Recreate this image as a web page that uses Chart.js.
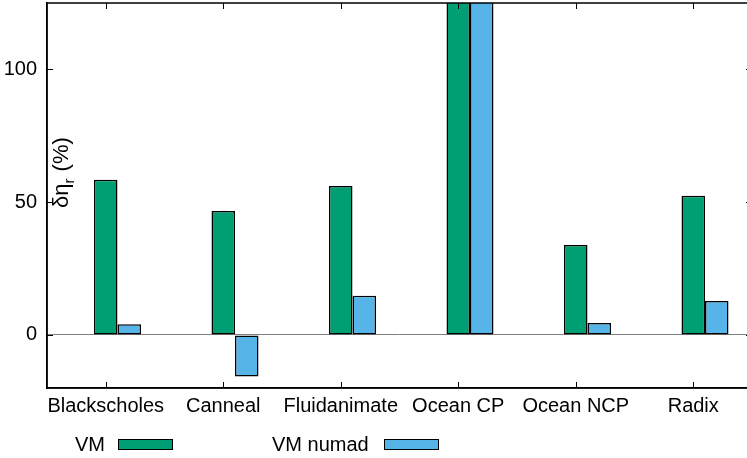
<!DOCTYPE html>
<html>
<head>
<meta charset="utf-8">
<script src="https://cdn.jsdelivr.net/npm/chart.js@4"></script>
<style>
html,body{margin:0;padding:0;background:#fff;overflow:hidden;}
#wrap{position:relative;width:752px;height:458px;}
.lg{position:absolute;font:20px "Liberation Sans",Arial,sans-serif;color:#000;line-height:20px;}
.sw{position:absolute;height:9px;border:1px solid #000;}
</style>
</head>
<body>
<div id="wrap">
<canvas id="chart" width="752" height="458"></canvas>
<div class="lg" style="left:75px;top:434px;">VM</div>
<div class="sw" style="left:118px;top:439px;width:53px;background:#009e73;"></div>
<div class="lg" style="left:272px;top:434px;">VM numad</div>
<div class="sw" style="left:384px;top:439px;width:53px;background:#56b4e9;"></div>
</div>
<script>
// DATA
const categories = ["Blackscholes","Canneal","Fluidanimate","Ocean CP","Ocean NCP","Radix"];
const vm = [58.4, 46.7, 56.1, 135, 33.9, 52.4];
const vmNumad = [4.0, -15.7, 14.7, 135, 4.5, 12.8];
const yTicks = [0, 50, 100];

const FONT = "'Liberation Sans', Arial, sans-serif";

// frame, inward ticks like gnuplot + y title
const framePlugin = {
  id: "frame",
  afterDraw(chart){
    const c = chart.ctx, a = chart.chartArea;
    const x = chart.scales.x, y = chart.scales.y;
    c.save();
    c.strokeStyle = "#000";
    c.lineWidth = 1.5;
    c.strokeRect(a.left, a.top, a.right - a.left, a.bottom - a.top);
    c.lineWidth = 1;
    c.beginPath();
    yTicks.forEach(v=>{
      const py = Math.round(y.getPixelForValue(v)) + 0.5;
      c.moveTo(a.left, py); c.lineTo(a.left + 6, py);
      c.moveTo(a.right, py); c.lineTo(a.right - 6, py);
    });
    categories.forEach((cat,i)=>{
      const px = Math.round(x.getPixelForValue(i)) + 0.5;
      c.moveTo(px, a.bottom); c.lineTo(px, a.bottom - 6);
      c.moveTo(px, a.top); c.lineTo(px, a.top + 6);
    });
    c.stroke();

    // y axis title inside the plot
    c.translate(68, 208);
    c.rotate(-Math.PI/2);
    c.fillStyle = "#000";
    c.textBaseline = "alphabetic";
    c.font = "22px " + FONT;
    c.fillText("δη", 0, 0);
    let w = c.measureText("δη").width;
    c.font = "15px " + FONT;
    c.fillText("r", w, 6);
    w += c.measureText("r").width;
    c.font = "22px " + FONT;
    c.fillText(" (%)", w + 1, 0);
    c.restore();
  }
};

new Chart(document.getElementById("chart"),{
  type:"bar",
  data:{
    labels:categories,
    datasets:[
      {label:"", data:[], backgroundColor:"transparent"},
      {label:"VM", data:vm, backgroundColor:"#009e73", borderColor:"#000", borderWidth:1.5, borderSkipped:false},
      {label:"VM numad", data:vmNumad, backgroundColor:"#56b4e9", borderColor:"#000", borderWidth:1.5, borderSkipped:false}
    ]
  },
  options:{
    responsive:false,
    animation:false,
    layout:{padding:{top:3,left:0,right:0,bottom:0}},
    datasets:{bar:{categoryPercentage:0.6, barPercentage:1.0}},
    plugins:{legend:{display:false}, tooltip:{enabled:false}},
    scales:{
      x:{
        grid:{display:false, drawTicks:false},
        border:{color:"#000", width:1.5},
        ticks:{color:"#000", font:{family:FONT, size:20}, padding:6, maxRotation:0, autoSkip:false},
        afterFit(s){ s.height = 70; s.paddingLeft = 0; s.paddingRight = 0; }
      },
      y:{
        min:-20, max:125,
        grid:{drawTicks:false, color:ctx=>ctx.tick && ctx.tick.value===0 ? "#808080" : "transparent", lineWidth:1},
        border:{color:"#000", width:1.5},
        ticks:{color:"#000", font:{family:FONT, size:20}, padding:10},
        afterBuildTicks(s){ s.ticks = yTicks.map(v=>({value:v})); },
        afterFit(s){ s.width = 47; s.paddingTop = 0; s.paddingBottom = 0; }
      }
    }
  },
  plugins:[framePlugin]
});
</script>
</body>
</html>
